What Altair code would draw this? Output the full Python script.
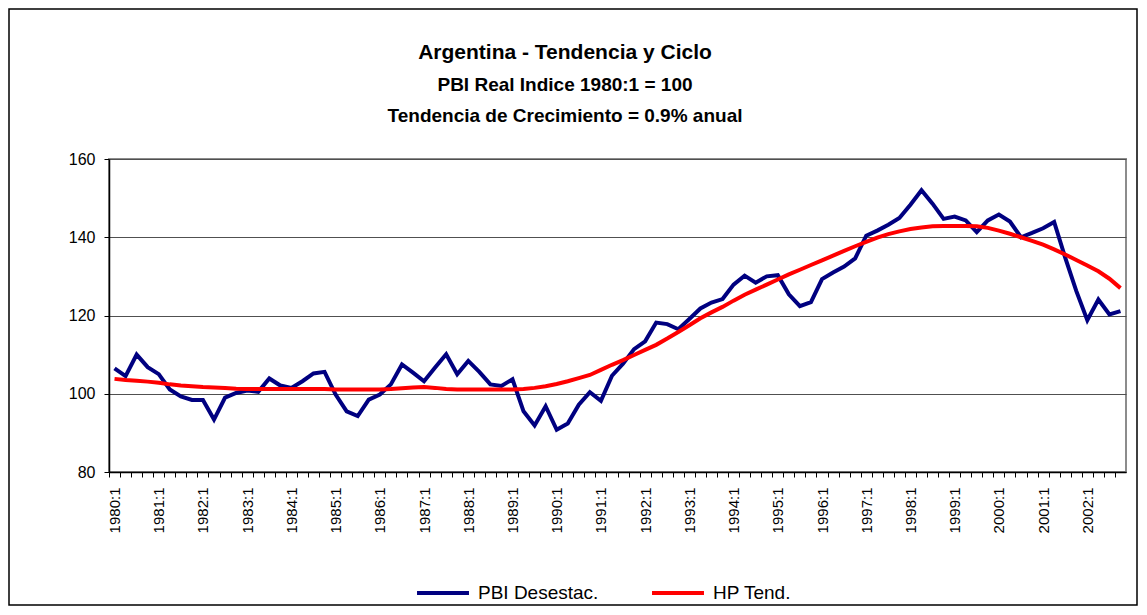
import altair as alt
import pandas as pd

# ---- data ----
years = list(range(1980, 2003))
quarter_nums = [1, 2, 3, 4]
periods = [f"{y}:{q}" for y in years for q in quarter_nums]

pbi_desestac = [
    106.5, 104.5, 110.0, 106.8, 105.0, 101.1, 99.3, 98.4, 98.4, 93.4,
    99.0, 100.2, 100.8, 100.5, 103.9, 102.1, 101.5, 103.2, 105.2, 105.6,
    99.8, 95.5, 94.3, 98.5, 99.8, 102.4, 107.5, 105.4, 103.2, 106.7,
    110.1, 105.0, 108.4, 105.6, 102.4, 102.0, 103.7, 95.5, 91.9, 96.8,
    90.8, 92.4, 97.2, 100.4, 98.2, 104.6, 107.7, 111.4, 113.4, 118.2,
    117.8, 116.5, 119.1, 121.8, 123.3, 124.2, 127.9, 130.2, 128.4, 130.0,
    130.3, 125.4, 122.4, 123.4, 129.3, 131.0, 132.5, 134.6, 140.4, 141.7,
    143.2, 144.9, 148.3, 152.0, 148.6, 144.7, 145.3, 144.3, 141.3, 144.3,
    145.8, 144.0, 140.0, 141.1, 142.3, 143.9, 134.8, 126.3, 118.8, 124.1,
    120.3, 121.1,
]

hp_tend = [
    103.8, 103.5, 103.3, 103.1, 102.8, 102.4, 102.1, 101.9, 101.7, 101.6,
    101.5, 101.3, 101.2, 101.2, 101.2, 101.2, 101.2, 101.2, 101.2, 101.2,
    101.1, 101.1, 101.1, 101.1, 101.1, 101.2, 101.4, 101.6, 101.7, 101.5,
    101.2, 101.1, 101.1, 101.1, 101.1, 101.1, 101.1, 101.2, 101.5, 101.9,
    102.5, 103.2, 104.0, 104.8, 106.1, 107.4, 108.6, 109.9, 111.2, 112.5,
    114.1, 115.8, 117.5, 119.3, 120.8, 122.2, 123.8, 125.3, 126.6, 127.9,
    129.2, 130.5, 131.7, 132.9, 134.1, 135.3, 136.5, 137.7, 138.8, 139.9,
    140.8, 141.5, 142.1, 142.5, 142.8, 142.9, 142.9, 142.9, 142.8, 142.4,
    141.7, 140.9, 140.0, 139.1, 138.1, 136.9, 135.6, 134.2, 132.8, 131.3,
    129.4, 127.0,
]

series_names = ["PBI Desestac.", "HP Tend."]
series_colors = ["#000080", "#ff0000"]
y_ticks = [80, 100, 120, 140, 160]

title_1 = "Argentina - Tendencia y Ciclo"
title_2 = "PBI Real Indice 1980:1 = 100"
title_3 = "Tendencia de Crecimiento = 0.9% anual"

df = pd.DataFrame({
    "periodo": periods * 2,
    "serie": [series_names[0]] * len(periods) + [series_names[1]] * len(periods),
    "valor": pbi_desestac + hp_tend,
})

W, H = 1017, 313
PAD_L, PAD_T, PAD_R, PAD_B = 101, 151, 13, 135
step = W / len(periods)
FONT = "Liberation Sans"

lines = alt.Chart(df).mark_line(strokeWidth=4).encode(
    x=alt.X(
        "periodo:O",
        sort=periods,
        scale=alt.Scale(type="point", domain=periods, padding=0.5),
        axis=alt.Axis(
            title=None,
            labelAngle=270,
            labelExpr="indexof(datum.value, ':1') > 0 ? datum.value : ''",
            labelOverlap=False,
            labelFontSize=15,
            labelFont=FONT,
            labelColor="#000000",
            labelPadding=10,
            tickOffset=-step / 2,
            labelOffset=step / 2,
            tickSize=5,
            tickColor="#000000",
            domainColor="#000000",
            domainWidth=1.5,
            grid=False,
        ),
    ),
    y=alt.Y(
        "valor:Q",
        scale=alt.Scale(domain=[80, 160], nice=False, zero=False),
        axis=alt.Axis(
            title=None,
            values=y_ticks,
            labelFontSize=16,
            labelFont=FONT,
            labelColor="#000000",
            labelPadding=9,
            tickSize=5,
            tickColor="#000000",
            domainColor="#000000",
            domainWidth=1.5,
            grid=True,
            gridColor="#505050",
            gridWidth=1,
        ),
    ),
    color=alt.Color(
        "serie:N",
        sort=series_names,
        scale=alt.Scale(domain=series_names, range=series_colors),
        legend=alt.Legend(
            title=None,
            orient="none",
            direction="horizontal",
            legendX=306,
            legendY=406,
            symbolType="stroke",
            symbolSize=2700,
            symbolStrokeWidth=4,
            labelFontSize=19,
            labelFont=FONT,
            labelColor="#000000",
            labelOffset=7,
            columnPadding=45,
            padding=0,
        ),
    ),
)

def text_layer(txt, x, y, size):
    return alt.Chart(pd.DataFrame({"t": [txt]})).mark_text(
        font=FONT, fontSize=size, fontWeight="bold", color="#000000",
        align="center", baseline="middle",
    ).encode(text="t:N", x=alt.value(x), y=alt.value(y))

t1 = text_layer(title_1, 456, -106, 21)
t2 = text_layer(title_2, 456, -74, 19)
t3 = text_layer(title_3, 456, -43, 19)

frame = alt.Chart(pd.DataFrame({"f": [0]})).mark_rect(
    fillOpacity=0, stroke="#000000", strokeWidth=1.5
).encode(
    x=alt.value(-PAD_L + 1), x2=alt.value(W + PAD_R - 2),
    y=alt.value(-PAD_T + 1), y2=alt.value(H + PAD_B - 2),
)

chart = alt.layer(frame, lines, t1, t2, t3).properties(
    width=W,
    height=H,
    padding={"left": PAD_L, "top": PAD_T, "right": PAD_R, "bottom": PAD_B},
    autosize=alt.AutoSizeParams(type="none"),
    background="#ffffff",
).configure_view(
    stroke="#8c8c8c", strokeWidth=2
)

chart.save("out.html", embed_options={"renderer": "svg", "actions": False})
